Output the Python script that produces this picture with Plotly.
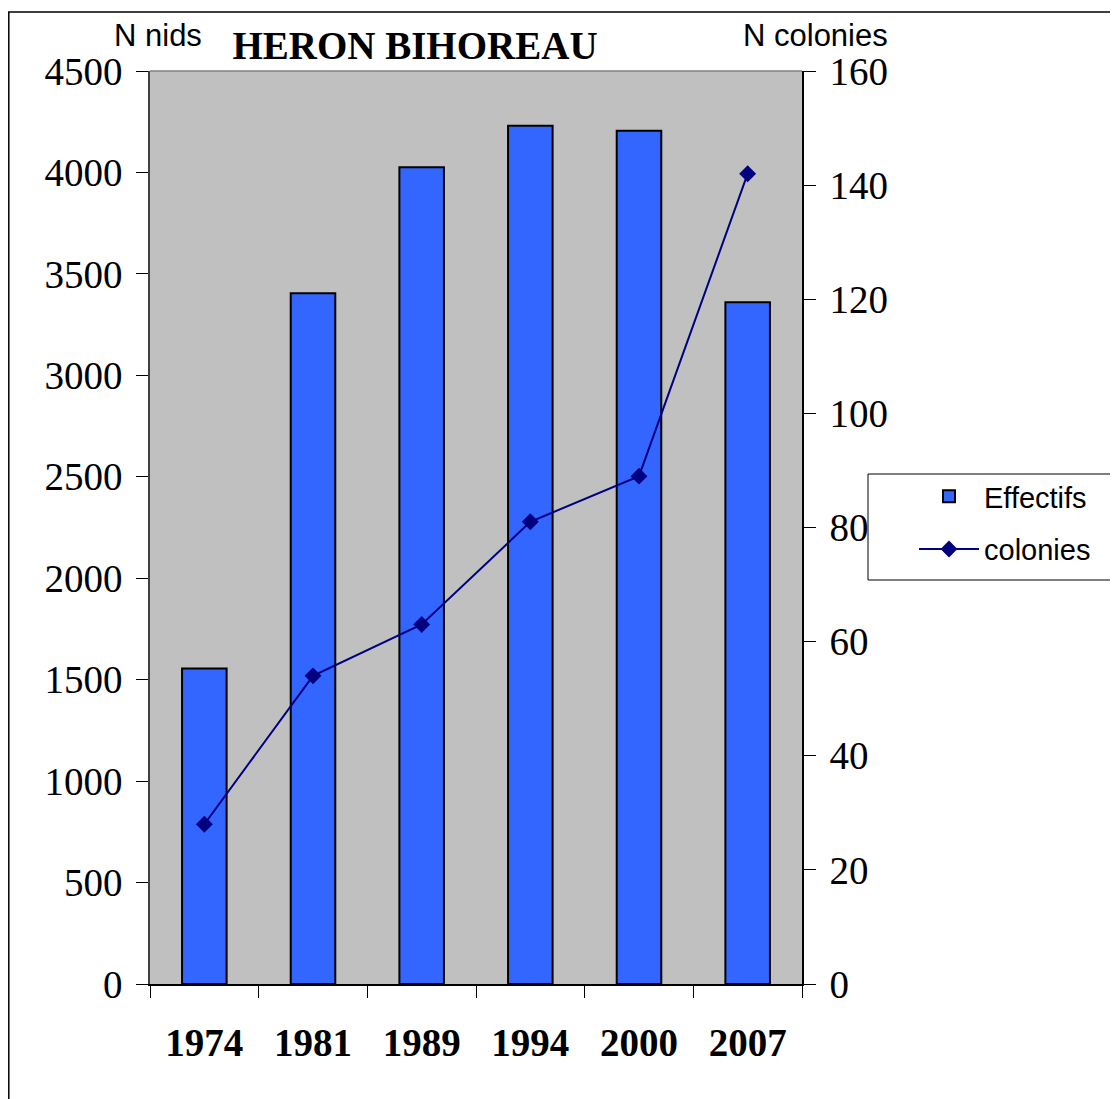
import plotly.graph_objects as go

# Héron bihoreau: nests (bars, left axis) and colonies (line, right axis)
years = ["1974", "1981", "1989", "1994", "2000", "2007"]
nids = [1555, 3405, 4025, 4230, 4205, 3360]
colonies = [28, 54, 63, 81, 89, 142]

BAR_BLUE = "#3366ff"
NAVY = "#000080"
PLOT_GREY = "#c0c0c0"
SERIF = "Liberation Serif, Times New Roman, serif"
SANS = "Liberation Sans, Arial, sans-serif"

# page body adds an 8px offset, so the figure is 8px smaller than the window
W, H = 1110, 1091
L, T, R, B = 142, 63, 316, 115
PW, PH = W - L - R, H - T - B


def px_x(x):
    return (x - L) / PW


def px_y(y):
    return (H - B - y) / PH


fig = go.Figure()
fig.add_trace(
    go.Bar(
        x=years,
        y=nids,
        name="Effectifs",
        legendgroup="a",
        marker=dict(color=BAR_BLUE, line=dict(color="black", width=2)),
    )
)
fig.add_trace(
    go.Scatter(
        x=years,
        y=colonies,
        name="colonies",
        legendgroup="b",
        yaxis="y2",
        mode="lines+markers",
        line=dict(color=NAVY, width=2),
        marker=dict(symbol="diamond", size=13, color=NAVY),
    )
)

fig.update_layout(
    width=W,
    height=H,
    margin=dict(l=L, r=R, t=T, b=B),
    paper_bgcolor="white",
    plot_bgcolor=PLOT_GREY,
    bargap=0.59,
    showlegend=True,
    title=dict(
        text="<b>HERON BIHOREAU</b>",
        font=dict(family=SERIF, size=39, color="black"),
        xref="paper",
        x=px_x(407),
        xanchor="center",
        y=1 - 37 / H,
        yanchor="middle",
    ),
    legend=dict(
        x=px_x(906),
        y=px_y(463),
        xanchor="left",
        yanchor="top",
        borderwidth=0,
        bgcolor="rgba(0,0,0,0)",
        font=dict(family=SANS, size=29, color="black"),
        traceorder="grouped",
        tracegroupgap=12,
        itemwidth=60,
    ),
    xaxis=dict(
        type="category",
        showline=True,
        linecolor="black",
        linewidth=1.5,
        ticks="outside",
        tickson="boundaries",
        ticklen=12,
        tickcolor="black",
        tickfont=dict(family=SERIF, size=39, color="black", weight="bold"),
        ticklabelstandoff=23,
        showgrid=False,
        fixedrange=True,
    ),
    yaxis=dict(
        range=[0, 4500],
        dtick=500,
        showline=True,
        linecolor="#404040",
        linewidth=1.5,
        ticks="outside",
        ticklen=12,
        tickcolor="black",
        tickfont=dict(family=SERIF, size=39, color="black"),
        ticklabelstandoff=6,
        showgrid=False,
        zeroline=False,
    ),
    yaxis2=dict(
        range=[0, 160],
        dtick=20,
        overlaying="y",
        side="right",
        showline=True,
        linecolor="black",
        linewidth=1.5,
        ticks="outside",
        ticklen=12,
        tickcolor="black",
        tickfont=dict(family=SERIF, size=39, color="black"),
        ticklabelstandoff=6,
        showgrid=False,
        zeroline=False,
    ),
    annotations=[
        dict(
            text="N nids",
            xref="paper",
            yref="paper",
            x=px_x(150),
            y=px_y(28),
            xanchor="center",
            yanchor="middle",
            showarrow=False,
            font=dict(family=SANS, size=31, color="black"),
        ),
        dict(
            text="N colonies",
            xref="paper",
            yref="paper",
            x=px_x(807),
            y=px_y(28),
            xanchor="center",
            yanchor="middle",
            showarrow=False,
            font=dict(family=SANS, size=31, color="black"),
        ),
    ],
    shapes=[
        # outer chart frame (runs past the right and bottom edges)
        dict(
            type="rect",
            xref="paper",
            yref="paper",
            x0=px_x(0.8),
            x1=2.0,
            y0=-0.5,
            y1=px_y(4),
            line=dict(color="black", width=1.5),
            layer="below",
        ),
        # legend frame (runs past the right edge)
        dict(
            type="rect",
            xref="paper",
            yref="paper",
            x0=px_x(860),
            x1=2.0,
            y0=px_y(572),
            y1=px_y(466),
            line=dict(color="black", width=1),
            fillcolor="white",
            layer="below",
        ),
        # grey border on top of plot area
        dict(
            type="line",
            xref="paper",
            yref="paper",
            x0=0,
            x1=1,
            y0=1,
            y1=1,
            line=dict(color="#808080", width=1.5),
        ),
    ],
)

fig.write_html("out.html")
